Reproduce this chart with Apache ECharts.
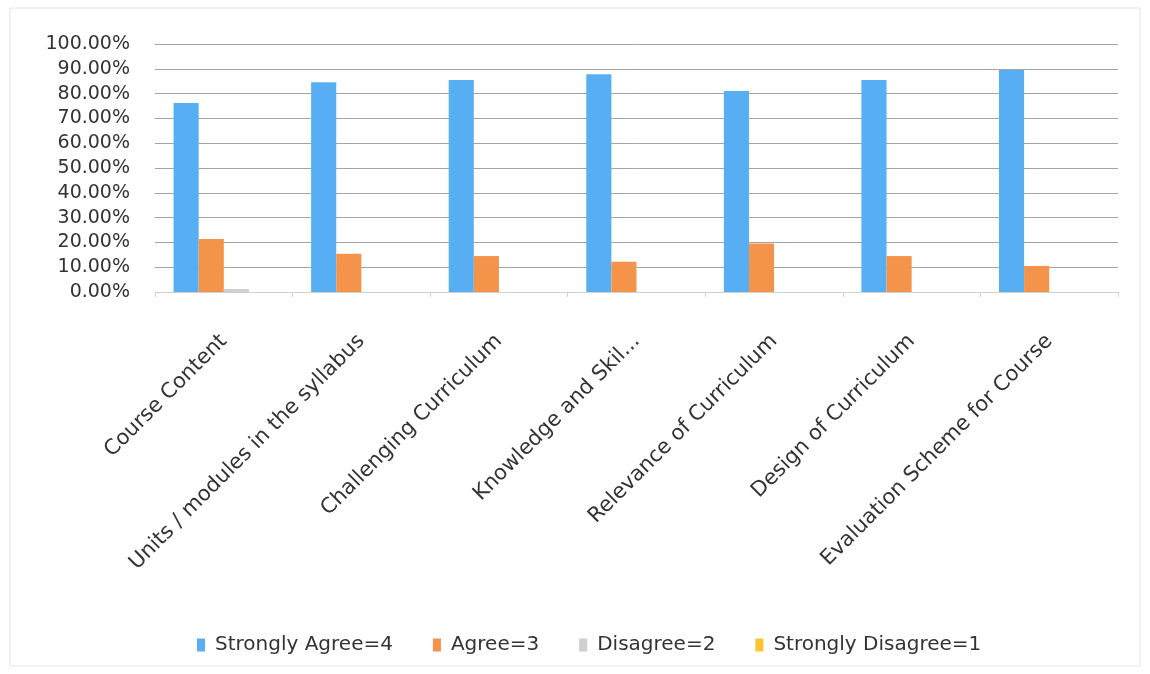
<!DOCTYPE html>
<html><head><meta charset="utf-8">
<script src="https://cdn.jsdelivr.net/npm/echarts@6/dist/echarts.min.js"></script>
<style>html,body{margin:0;padding:0;background:#fff}#c{width:1150px;height:674px}</style>
</head><body><div id="c"></div>
<script>
const categories = ["Course Content","Units / modules in the syllabus","Challenging Curriculum","Knowledge and Skil...","Relevance of Curriculum","Design of Curriculum","Evaluation Scheme for Course"];
const seriesNames = ["Strongly Agree=4","Agree=3","Disagree=2","Strongly Disagree=1"];
const stronglyAgree = [76.2, 84.6, 85.5, 87.8, 81.0, 85.5, 89.5];
const agree = [21.4, 15.4, 14.5, 12.2, 19.6, 14.5, 10.5];
const disagree = [1.2, 0, 0, 0, 0, 0, 0];
const stronglyDisagree = [0, 0, 0, 0, 0, 0, 0];
const yTicks = [0,10,20,30,40,50,60,70,80,90,100];
const colors = ["#58aef2","#f4934a","#cfcfcf","#fbc531"];
const font = "'DejaVu Sans', sans-serif";
const chart = echarts.init(document.getElementById('c'));
const dataSets = [stronglyAgree, agree, disagree, stronglyDisagree];
chart.setOption({
  animation:false,
  graphic:[{type:'rect',shape:{x:10,y:8,width:1130,height:658},style:{fill:'none',stroke:'#e4e4e4',lineWidth:1},silent:true}],
  grid:{left:155,right:32,top:44,bottom:382},
  legend:{top:630,left:192,itemWidth:8,itemHeight:13,itemGap:40,icon:'rect',
    textStyle:{fontFamily:font,fontSize:20,color:'#333',padding:[0,0,0,5]},data:seriesNames},
  xAxis:{type:'category',data:categories,
    axisLine:{lineStyle:{color:'#d0d0d0'}},
    axisTick:{show:true,length:5,lineStyle:{color:'#d0d0d0'}},
    axisLabel:{rotate:45,interval:0,fontFamily:font,fontSize:21,color:'#333',margin:46}},
  yAxis:{type:'value',min:0,max:100,interval:10,
    axisLine:{show:false},axisTick:{show:false},
    splitLine:{lineStyle:{color:'#a4a4a4',width:1}},
    axisLabel:{fontFamily:font,fontSize:19,color:'#333',margin:25,
      formatter:v=>yTicks.includes(v)?v.toFixed(2)+'%':''}},
  series:seriesNames.map((n,i)=>({name:n,type:'bar',data:dataSets[i],
    barGap:'0%',barCategoryGap:'27%',itemStyle:{color:colors[i]}}))
});
</script></body></html>
